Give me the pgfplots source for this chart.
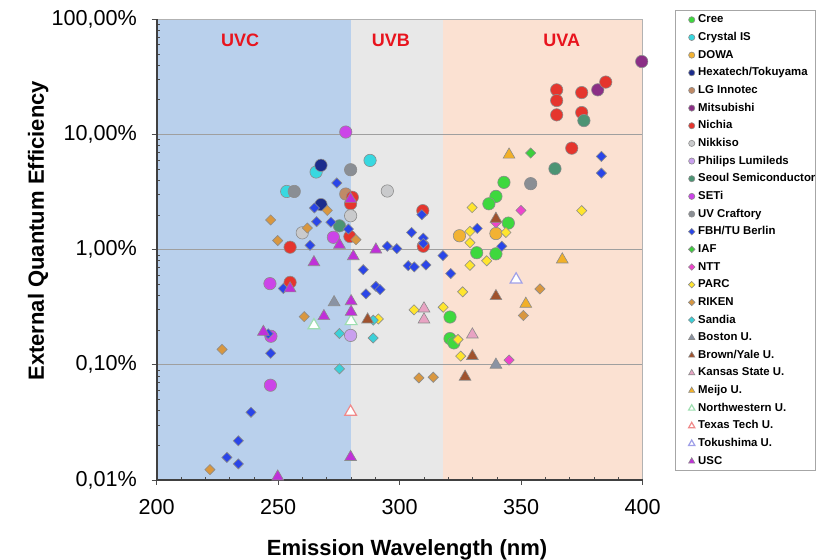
\documentclass[border=0pt]{standalone}
\usepackage{fontspec}
\setmainfont{Liberation Sans}
\usepackage{pgfplots}
\pgfplotsset{compat=1.18}

\definecolor{cree}{HTML}{3ED83E}
\definecolor{crystal}{HTML}{38D8E0}
\definecolor{dowa}{HTML}{F2B233}
\definecolor{hexa}{HTML}{1C2C8C}
\definecolor{lgin}{HTML}{C08A66}
\definecolor{mitsu}{HTML}{8B2F86}
\definecolor{nichia}{HTML}{E5352D}
\definecolor{nikkiso}{HTML}{C9CACC}
\definecolor{philips}{HTML}{C9A0EE}
\definecolor{seoul}{HTML}{4C9474}
\definecolor{seti}{HTML}{CC44E8}
\definecolor{uvcraft}{HTML}{8A8E94}
\definecolor{fbh}{HTML}{2A45E8}
\definecolor{iaf}{HTML}{3CCF3C}
\definecolor{ntt}{HTML}{EE44CC}
\definecolor{parc}{HTML}{FFE52E}
\definecolor{riken}{HTML}{D9973F}
\definecolor{sandia}{HTML}{3CD0D8}
\definecolor{boston}{HTML}{8A93A3}
\definecolor{brownyale}{HTML}{A0522D}
\definecolor{kansas}{HTML}{E8A3C3}
\definecolor{meijo}{HTML}{F2B028}
\definecolor{northw}{HTML}{9EDEB0}
\definecolor{texas}{HTML}{F08A8A}
\definecolor{tokush}{HTML}{A0A0E8}
\definecolor{usc}{HTML}{C030D8}
\definecolor{uvcbg}{HTML}{B9D0EC}
\definecolor{uvbbg}{HTML}{E8E8E8}
\definecolor{uvabg}{HTML}{FBE1D2}
\definecolor{uvred}{HTML}{E8141E}

\pgfplotsset{
  lgimg/.style={legend image code/.code={\path (-7.85pt,0pt) (1.6pt,0pt); \draw[##1, mark size=#1] plot coordinates {(0pt,0pt)};}},
  circ/.style={only marks, mark=*, mark size=3.1pt, lgimg=1.55pt,
    mark options={draw=black!45, line width=0.3pt, fill=#1}},
  dia/.style={only marks, mark=square*, mark size=1.8pt, lgimg=1.15pt,
    mark options={rotate=45, draw=black!45, line width=0.3pt, fill=#1}},
  tri/.style={only marks, mark=triangle*, mark size=3.4pt, lgimg=1.8pt,
    mark options={draw=black!45, line width=0.3pt, fill=#1}},
  otri/.style={only marks, mark=triangle*, mark size=3.4pt, lgimg=1.8pt,
    mark options={draw=#1, line width=0.6pt, fill=white}},
}

\begin{document}
\begin{tikzpicture}
\begin{axis}[
  set layers,
  scale only axis, width=243pt, height=230.35pt,
  xmin=200, xmax=400, ymin=0.01, ymax=100, ymode=log,
  clip=false,
  xtick={200,250,300,350,400}, xticklabels={200,250,300,350,400},
  minor x tick num=4,
  ytick={0.01,0.1,1,10,100},
  yticklabels={{0,01\%},{0,10\%},{1,00\%},{10,00\%},{100,00\%}},
  minor ytick={0.02,0.03,0.04,0.05,0.06,0.07,0.08,0.09,
    0.2,0.3,0.4,0.5,0.6,0.7,0.8,0.9,2,3,4,5,6,7,8,9,20,30,40,50,60,70,80,90},
  xtick pos=bottom, ytick pos=left,
  tick align=inside, major tick length=2.5pt, minor tick length=1.6pt,
  major x tick style={yshift=-2.5pt},
  major y tick style={xshift=-2.5pt},
  tick style={black!70, line width=0.4pt},
  ymajorgrids, major grid style={gray!75, line width=0.5pt},
  axis line style={gray!60, line width=0.5pt},
  tick label style={font=\fontsize{10.8}{12}\selectfont},
  yticklabel style={xshift=-6.4pt},
  xticklabel style={yshift=-6.1pt},
  xlabel={Emission Wavelength (nm)},
  ylabel={External Quantum Efficiency},
  label style={font=\fontsize{11}{13}\selectfont\bfseries},
  xlabel style={at={(axis description cs:0.515,-0.152)}, anchor=center},
  ylabel style={at={(axis description cs:-0.244,0.541)}, anchor=center},
  legend cell align=left,
  legend style={at={(1.0665,1.0202)}, anchor=north west,
    draw=gray!70, line width=0.5pt, fill=white,
    font=\fontsize{5.7}{6.8}\selectfont\bfseries,
    inner xsep=0pt, inner ysep=1.95pt, row sep=3.43pt,
    nodes={inner sep=0pt, text height=4.2pt, text depth=1.2pt},
    /tikz/every odd column/.append style={column sep=1.4pt}},
]
% spectral regions
\addplot[fill=uvcbg, draw=none, forget plot, on layer=axis background]
  coordinates {(200,0.01) (200,100) (280,100) (280,0.01)} -- cycle;
\addplot[fill=uvbbg, draw=none, forget plot, on layer=axis background]
  coordinates {(280,0.01) (280,100) (318,100) (318,0.01)} -- cycle;
\addplot[fill=uvabg, draw=none, forget plot, on layer=axis background]
  coordinates {(318,0.01) (318,100) (400,100) (400,0.01)} -- cycle;

\addplot[circ=cree] coordinates {(342.9,3.84) (339.6,2.9) (336.7,2.5) (344.7,1.7) (331.7,0.94)
  (339.6,0.92) (320.7,0.26) (320.7,0.169) (322.3,0.155)};
\addlegendentry{Cree}
\addplot[circ=crystal] coordinates {(253.5,3.2) (265.6,4.72) (287.8,5.95)};
\addlegendentry{Crystal IS}
\addplot[circ=dowa] coordinates {(324.6,1.32) (339.6,1.38)};
\addlegendentry{DOWA}
\addplot[circ=hexa] coordinates {(267.6,5.4) (267.6,2.46)};
\addlegendentry{Hexatech/Tokuyama}
\addplot[circ=lgin] coordinates {(277.8,3.04)};
\addlegendentry{LG Innotec}
\addplot[circ=mitsu] coordinates {(399.6,43) (381.5,24.4)};
\addlegendentry{Mitsubishi}
\addplot[circ=nichia] coordinates {(254.9,1.05) (254.9,0.52) (280.5,2.85) (279.8,2.5) (279.5,1.30)
  (309.5,2.18) (309.7,1.07) (384.8,28.5) (374.9,23.1) (364.6,24.4) (364.6,19.7)
  (364.6,14.8) (374.9,15.5) (370.8,7.6)};
\addlegendentry{Nichia}
\addplot[circ=nikkiso] coordinates {(259.9,1.40) (294.9,3.23) (279.8,1.97)};
\addlegendentry{Nikkiso}
\addplot[circ=philips] coordinates {(279.8,0.18)};
\addlegendentry{Philips Lumileds}
\addplot[circ=seoul] coordinates {(375.8,13.2) (363.9,5.04) (275.2,1.61)};
\addlegendentry{Seoul Semiconductor}
\addplot[circ=seti] coordinates {(277.8,10.5) (246.6,0.507) (247.0,0.177) (246.8,0.0665) (272.7,1.28)};
\addlegendentry{SETi}
\addplot[circ=uvcraft] coordinates {(256.6,3.2) (279.8,4.94) (353.9,3.74)};
\addlegendentry{UV Craftory}
\addplot[dia=fbh] coordinates {(228.9,0.0157) (233.6,0.0138) (233.6,0.0219) (238.8,0.0387)
  (246.9,0.126) (245.9,0.186) (252.1,0.46) (263.1,1.09) (265.8,1.75) (264.9,2.3)
  (274.1,3.79) (271.7,1.73) (278.9,1.51) (285.0,0.67) (286.1,0.413) (290.2,0.48)
  (291.9,0.45) (294.9,1.07) (298.8,1.02) (303.5,0.726) (306.0,0.708) (310.8,0.736)
  (304.9,1.41) (309.7,1.26) (309.7,1.13) (309.1,2.01) (317.8,0.888) (321.0,0.62)
  (331.9,1.53) (342.0,1.07) (383.0,6.45) (383.0,4.62)};
\addlegendentry{FBH/TU Berlin}
\addplot[dia=iaf] coordinates {(353.9,6.9)};
\addlegendentry{IAF}
\addplot[dia=ntt] coordinates {(349.9,2.19) (339.6,1.71) (345.0,0.11)};
\addlegendentry{NTT}
\addplot[dia=parc] coordinates {(291.2,0.25) (305.9,0.30) (317.9,0.316) (324.0,0.166) (325.9,0.43)
  (325.1,0.119) (328.9,0.73) (329.8,2.32) (374.9,2.18) (328.9,1.44) (343.7,1.41)
  (328.9,1.15) (335.8,0.80)};
\addlegendentry{PARC}
\addplot[dia=riken] coordinates {(221.9,0.0123) (226.9,0.136) (246.9,1.81) (249.8,1.20) (262.0,1.54)
  (260.7,0.262) (270.2,2.19) (282.0,1.22) (307.9,0.077) (313.8,0.078) (357.7,0.456)
  (350.9,0.268)};
\addlegendentry{RIKEN}
\addplot[dia=sandia] coordinates {(275.2,0.187) (275.2,0.0923) (289.1,0.244) (289.1,0.171)};
\addlegendentry{Sandia}
\addplot[tri=boston] coordinates {(273.0,0.349) (339.6,0.10)};
\addlegendentry{Boston U.}
\addplot[tri=brownyale] coordinates {(286.8,0.247) (326.9,0.0787) (329.9,0.119) (339.6,0.394) (339.6,1.85)};
\addlegendentry{Brown/Yale U.}
\addplot[tri=kansas] coordinates {(310.0,0.308) (310.0,0.247) (329.9,0.183)};
\addlegendentry{Kansas State U.}
\addplot[tri=meijo] coordinates {(345.0,6.67) (366.9,0.82) (351.9,0.338)};
\addlegendentry{Meijo U.}
\addplot[otri=northw] coordinates {(264.7,0.22) (280.0,0.239)};
\addlegendentry{Northwestern U.}
\addplot[otri=texas] coordinates {(279.8,0.039)};
\addlegendentry{Texas Tech U.}
\addplot[otri=tokush] coordinates {(347.9,0.55)};
\addlegendentry{Tokushima U.}
\addplot[tri=usc] coordinates {(249.8,0.0107) (243.9,0.193) (254.9,0.46) (264.7,0.776) (275.2,1.10)
  (279.8,2.75) (280.9,0.875) (290.2,1.0) (280.0,0.356) (280.0,0.288) (268.8,0.264)
  (279.8,0.0158)};
\addlegendentry{USC}

\draw[black!75, line width=0.8pt] (rel axis cs:0,1) -- (rel axis cs:0,0) -- (rel axis cs:1,0);
\node[text=uvred, font=\fontsize{9}{11}\selectfont\bfseries] at (axis cs:234.3,66) {UVC};
\node[text=uvred, font=\fontsize{9}{11}\selectfont\bfseries] at (axis cs:296.4,66) {UVB};
\node[text=uvred, font=\fontsize{9}{11}\selectfont\bfseries] at (axis cs:366.7,66) {UVA};
\end{axis}
\pgfresetboundingbox
\path[use as bounding box] (-78.35pt,-40pt) rectangle (330.15pt,240pt);
\end{tikzpicture}
\end{document}
